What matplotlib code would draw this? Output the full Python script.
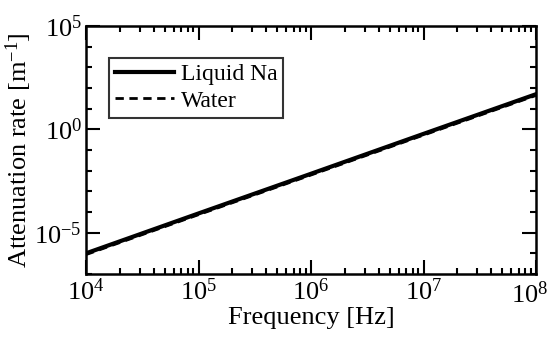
import numpy as np
import matplotlib
matplotlib.use("Agg")
from matplotlib import pyplot as plt
from matplotlib import ticker

plt.rcParams['font.family'] = ['Liberation Serif', 'DejaVu Serif']
plt.rcParams['mathtext.fontset'] = 'custom'
plt.rcParams['mathtext.rm'] = 'Liberation Serif'
plt.rcParams['mathtext.it'] = 'Liberation Serif:italic'

# attenuation read at the ends of the frequency range (log10 values)
freq_hz = [1e4, 1e5, 1e6, 1e7, 1e8]
na_log = [-6.0, -4.07, -2.15, -0.22, 1.7]
water_log = [-6.06, -4.13, -2.21, -0.28, 1.64]
x_ticks = [1e4, 1e5, 1e6, 1e7, 1e8]
x_labels = ["$10^{4}$", "$10^{5}$", "$10^{6}$", "$10^{7}$", "$10^{8}$"]

fig = plt.figure(figsize=(5.51, 3.49), dpi=100)
ax = fig.add_axes([86 / 551, 1 - 274 / 349, 450 / 551, 248 / 349])

ax.plot(freq_hz, 10 ** np.array(na_log), color="black", lw=3.0, label="Liquid Na")
ax.plot(freq_hz, 10 ** np.array(water_log), color="black", lw=2.0, ls=(0, (3, 2)), label="Water")

ax.set_xscale("log")
ax.set_yscale("log")
ax.set_xlim(1e4, 1e8)
ax.set_ylim(1e-7, 1e5)

# last label is drawn separately so it stays inside the figure
ax.set_xticks(x_ticks)
ax.set_xticklabels(x_labels[:-1] + [""])
ax.annotate(x_labels[-1], xy=(x_ticks[-1], 0), xycoords=("data", "axes fraction"),
            xytext=(8.5, -5), textcoords="offset points", ha="right", va="top", fontsize=19)

ax.xaxis.set_minor_locator(ticker.LogLocator(base=10, subs=np.arange(2, 10), numticks=20))
ax.xaxis.set_minor_formatter(ticker.NullFormatter())
ax.yaxis.set_major_locator(ticker.FixedLocator([1e-5, 1e0, 1e5]))
ax.yaxis.set_minor_locator(ticker.LogLocator(base=10, subs=[1.0], numticks=20))
ax.yaxis.set_minor_formatter(ticker.NullFormatter())
ax.yaxis.set_major_formatter(ticker.LogFormatterMathtext())

ax.tick_params(which="both", direction="in", top=True, right=True, width=1.5,
               labelsize=19, colors="black")
ax.tick_params(which="major", length=10, pad=3)
ax.tick_params(which="minor", length=4)
for s in ax.spines.values():
    s.set_linewidth(1.8)

ax.set_xlabel("Frequency [Hz]", fontsize=19, labelpad=2)
ax.set_ylabel("Attenuation rate [m$^{-1}$]", fontsize=19, labelpad=0)

leg = ax.legend(loc="upper left", bbox_to_anchor=(0.051, 0.871), borderaxespad=0,
                fontsize=17, frameon=True, fancybox=False, edgecolor="black",
                handlelength=2.5, borderpad=0.25, labelspacing=0.2, handletextpad=0.3)
leg.get_frame().set_linewidth(1.5)

fig.savefig("out.png", dpi=100)
